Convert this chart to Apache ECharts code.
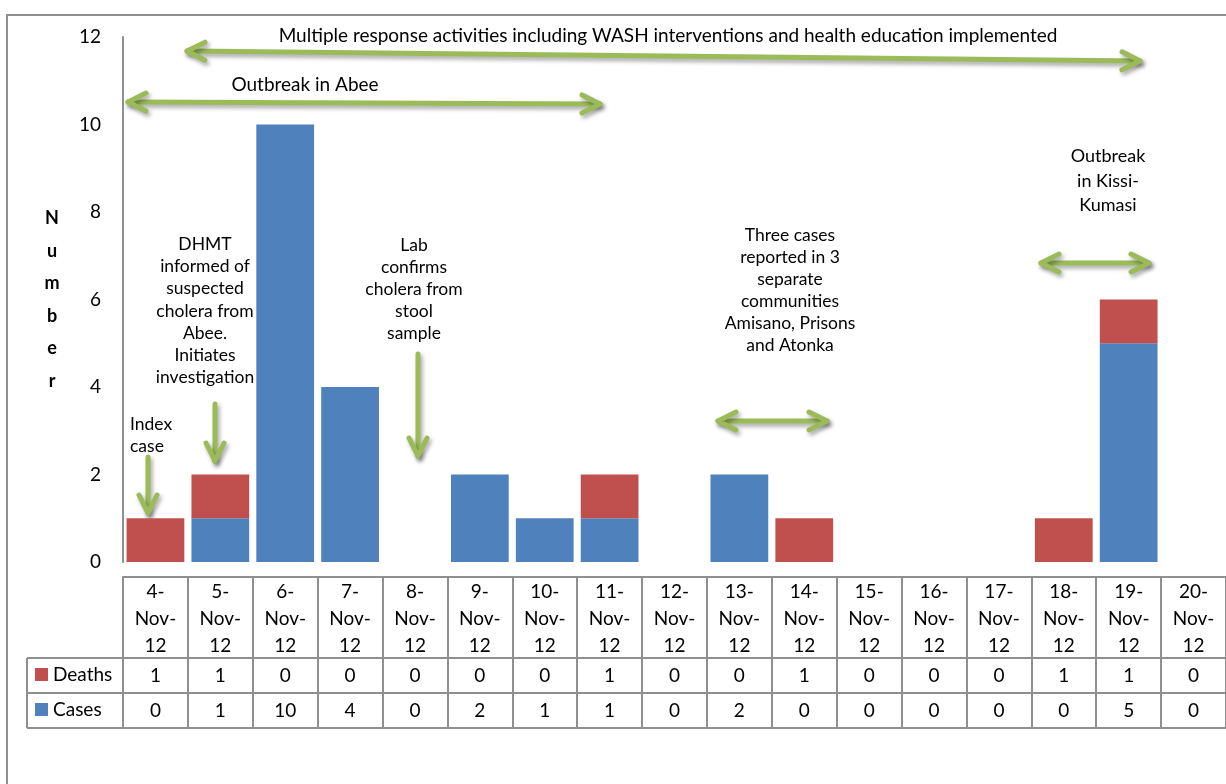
<!DOCTYPE html>
<html>
<head>
<meta charset="utf-8">
<title>Cholera cases and deaths, November 2012</title>
<script src="https://cdn.jsdelivr.net/npm/echarts@6/dist/echarts.min.js"></script>
<style>
  html, body { margin: 0; padding: 0; background: #fff; }
  #chart { width: 1226px; height: 784px; }
</style>
</head>
<body>
<div id="chart"></div>
<script>
// Daily counts, 4–20 November 2012
const dates = ['4-Nov-12', '5-Nov-12', '6-Nov-12', '7-Nov-12', '8-Nov-12', '9-Nov-12',
  '10-Nov-12', '11-Nov-12', '12-Nov-12', '13-Nov-12', '14-Nov-12', '15-Nov-12',
  '16-Nov-12', '17-Nov-12', '18-Nov-12', '19-Nov-12', '20-Nov-12'];
const deaths = [1, 1, 0, 0, 0, 0, 0, 1, 0, 0, 1, 0, 0, 0, 1, 1, 0];
const cases = [0, 1, 10, 4, 0, 2, 1, 1, 0, 2, 0, 0, 0, 0, 0, 5, 0];
const yTicks = { min: 0, max: 12, interval: 2 };

const FONT = 'Lato';
const FS = 19;
const NOTE_FS = 17.5;
const GREEN = '#9BBB59';
const GRAY = '#8f8f8f';
const GRID = { left: 123, top: 37, width: 1105, height: 525 };
const AXIS_Y = 562;
const TABLE_TOP = 577;
const ROW_H = 35;
const HEAD_BOTTOM = 658;

const chart = echarts.init(document.getElementById('chart'), null, { renderer: 'canvas' });

// green arrows with open chevron heads
function chevron(tx, ty, ux, uy) {
  // (ux, uy): unit vector pointing along the arrow direction at the tip
  const back = 18, half = 9;
  const bx = tx - ux * back, by = ty - uy * back;
  const px = -uy, py = ux;
  return [[bx + px * half, by + py * half], [tx, ty], [bx - px * half, by - py * half]];
}
const shadow = { shadowBlur: 4, shadowOffsetX: 2, shadowOffsetY: 3, shadowColor: 'rgba(0,0,0,0.35)' };
function arrow(x1, y1, x2, y2, both) {
  const len = Math.hypot(x2 - x1, y2 - y1);
  const ux = (x2 - x1) / len, uy = (y2 - y1) / len;
  const style = Object.assign({ stroke: GREEN, lineWidth: 5, fill: null, lineCap: 'round', lineJoin: 'round' }, shadow);
  const parts = [
    { type: 'polyline', shape: { points: [[x1, y1], [x2, y2]] }, style },
    { type: 'polyline', shape: { points: chevron(x2, y2, ux, uy) }, style }
  ];
  if (both) parts.push({ type: 'polyline', shape: { points: chevron(x1, y1, -ux, -uy) }, style });
  return { type: 'group', children: parts };
}
function note(text, x, y, opts) {
  const o = opts || {};
  return {
    type: 'text',
    style: {
      text, x, y, align: o.align || 'center', verticalAlign: 'middle',
      font: (o.size || NOTE_FS) + 'px ' + FONT, fill: '#000', lineHeight: o.lh || 22
    }
  };
}

const tableRight = GRID.left + GRID.width;
const lineStyle = { stroke: GRAY, lineWidth: 2 };

const graphics = [
  // outer frame
  { type: 'rect', shape: { x: 7, y: 15, width: 1400, height: 1000 }, style: { fill: null, stroke: GRAY, lineWidth: 2 } },
  // table rows, including the legend column
  { type: 'line', shape: { x1: 27, y1: HEAD_BOTTOM, x2: tableRight, y2: HEAD_BOTTOM }, style: lineStyle },
  { type: 'line', shape: { x1: 27, y1: HEAD_BOTTOM + ROW_H, x2: tableRight, y2: HEAD_BOTTOM + ROW_H }, style: lineStyle },
  { type: 'line', shape: { x1: 27, y1: HEAD_BOTTOM + 2 * ROW_H, x2: tableRight, y2: HEAD_BOTTOM + 2 * ROW_H }, style: lineStyle },
  { type: 'line', shape: { x1: 27, y1: HEAD_BOTTOM, x2: 27, y2: HEAD_BOTTOM + 2 * ROW_H }, style: lineStyle },

  // annotations
  note('Multiple response activities including WASH interventions and health education implemented', 668, 36, { size: FS }),
  arrow(187, 51, 1140, 61, true),
  note('Outbreak in Abee', 305, 85, { size: FS }),
  arrow(128, 102, 600, 104, true),
  note('Index\ncase', 130, 435, { align: 'left' }),
  arrow(148, 457, 148, 513, false),
  note('DHMT\ninformed of\nsuspected\ncholera from\nAbee.\nInitiates\ninvestigation', 205, 311, { lh: 22.2 }),
  arrow(215, 404, 215, 461, false),
  note('Lab\nconfirms\ncholera from\nstool\nsample', 414, 289),
  arrow(418, 354, 418, 456, false),
  note('Three cases\nreported in 3\nseparate\ncommunities\nAmisano, Prisons\nand Atonka', 790, 290),
  arrow(718, 421, 827, 421, true),
  note('Outbreak\nin Kissi-\nKumasi', 1108, 181, { lh: 24.5, size: 18 }),
  arrow(1041, 263, 1149, 263, true)
];

// one row of the data table, drawn as an extra bottom axis whose labels are the values
function rowAxis(values, centerY) {
  return {
    type: 'category', data: dates, position: 'bottom', offset: centerY - AXIS_Y,
    axisLine: { show: false, onZero: false }, axisTick: { show: false },
    axisLabel: {
      interval: 0, margin: 0, verticalAlign: 'middle', fontFamily: FONT, fontSize: FS, color: '#000',
      formatter: (v, i) => String(values[i])
    }
  };
}

const LEGEND_LH = 20;

chart.setOption({
  animation: false,
  backgroundColor: '#fff',
  textStyle: { fontFamily: FONT },
  grid: GRID,
  legend: {
    data: ['Deaths', 'Cases'],
    orient: 'vertical', left: 30, top: HEAD_BOTTOM + ROW_H / 2 - LEGEND_LH / 2 - 5 - 1, padding: 5,
    itemWidth: 13, itemHeight: 13, itemGap: ROW_H - LEGEND_LH, icon: 'rect',
    textStyle: { fontFamily: FONT, fontSize: FS, lineHeight: LEGEND_LH, color: '#000' },
    selectedMode: false
  },
  xAxis: [
    {
      type: 'category', data: dates, offset: TABLE_TOP - AXIS_Y,
      axisLine: { show: true, onZero: false, lineStyle: { color: GRAY, width: 2 } },
      axisTick: { show: true, interval: 0, length: HEAD_BOTTOM + 2 * ROW_H - TABLE_TOP, lineStyle: { color: GRAY, width: 2 } },
      axisLabel: {
        interval: 0, margin: 1, fontFamily: FONT, fontSize: FS, lineHeight: 27, color: '#000',
        formatter: v => v.replace(/-/g, '-\n')
      }
    },
    rowAxis(deaths, HEAD_BOTTOM + ROW_H / 2),
    rowAxis(cases, HEAD_BOTTOM + 1.5 * ROW_H)
  ],
  yAxis: {
    type: 'value', min: yTicks.min, max: yTicks.max, interval: yTicks.interval,
    name: 'N\nu\nm\nb\ne\nr', nameLocation: 'middle', nameRotate: 0, nameGap: 71,
    nameTextStyle: { fontFamily: FONT, fontSize: 18, fontWeight: 'bold', color: '#000', lineHeight: 32.5, align: 'center', verticalAlign: 'middle' },
    axisLine: { show: true, lineStyle: { color: GRAY, width: 2 } },
    axisTick: { show: false },
    splitLine: { show: false },
    axisLabel: { margin: 22, fontFamily: FONT, fontSize: 19, color: '#000' }
  },
  series: [
    {
      name: 'Cases', type: 'bar', stack: 'total', data: cases,
      barCategoryGap: '11%',
      itemStyle: { color: '#4F81BD' }
    },
    {
      name: 'Deaths', type: 'bar', stack: 'total', data: deaths,
      barCategoryGap: '11%',
      itemStyle: { color: '#C0504D' }
    }
  ],
  graphic: graphics
});
</script>
</body>
</html>
